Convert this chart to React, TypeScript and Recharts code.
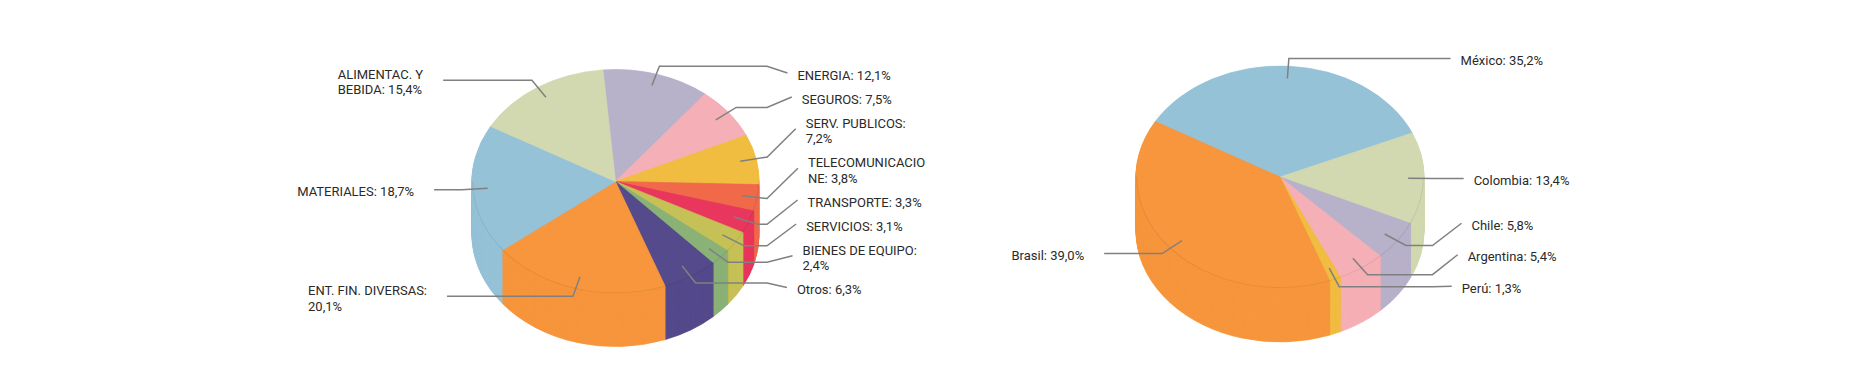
import { PieChart, Pie, Cell } from 'recharts'

// Left pie: sectors
const sectorNames = [
  'ENERGIA',
  'SEGUROS',
  'SERV. PUBLICOS',
  'TELECOMUNICACIONE',
  'TRANSPORTE',
  'SERVICIOS',
  'BIENES DE EQUIPO',
  'Otros',
  'ENT. FIN. DIVERSAS',
  'MATERIALES',
  'ALIMENTAC. Y BEBIDA',
]
const sectorValues = [12.1, 7.5, 7.2, 3.8, 3.3, 3.1, 2.4, 6.3, 20.1, 18.7, 15.4]
const sectorColors = [
  '#B8B1CA',
  '#F5AFB6',
  '#F1BD41',
  '#F06A4A',
  '#E8365D',
  '#C6C157',
  '#8BB276',
  '#544A8C',
  '#F7963D',
  '#96C2D7',
  '#D2D9B0',
]
const sectorLabels = [
  ['ENERGIA: 12,1%'],
  ['SEGUROS: 7,5%'],
  ['SERV. PUBLICOS:', '7,2%'],
  ['TELECOMUNICACIO', 'NE: 3,8%'],
  ['TRANSPORTE: 3,3%'],
  ['SERVICIOS: 3,1%'],
  ['BIENES DE EQUIPO:', '2,4%'],
  ['Otros: 6,3%'],
  ['ENT. FIN. DIVERSAS:', '20,1%'],
  ['MATERIALES: 18,7%'],
  ['ALIMENTAC. Y', 'BEBIDA: 15,4%'],
]

// Right pie: countries
const countryNames = ['México', 'Colombia', 'Chile', 'Argentina', 'Perú', 'Brasil']
const countryValues = [35.2, 13.4, 5.8, 5.4, 1.3, 39.0]
const countryColors = ['#96C2D7', '#D2D9B0', '#B8B1CA', '#F5AFB6', '#F1BD41', '#F7963D']
const countryLabels = [
  ['México: 35,2%'],
  ['Colombia: 13,4%'],
  ['Chile: 5,8%'],
  ['Argentina: 5,4%'],
  ['Perú: 1,3%'],
  ['Brasil: 39,0%'],
]

const FONT_SIZE = 13
const FONT_FAMILY = 'Roboto, "Noto Sans", sans-serif'
const LINE_COLOR = '#808080'
const TEXT_COLOR = '#2a2a2a'
const RAD = Math.PI / 180

type Spec = {
  cx: number
  cy: number
  rx: number
  ry: number
  depth: number
  startAngle: number
  lineH: number
  gap: number
  rightTop: number
  rightBottom: number
  leftTop: number
  leftBottom: number
}

const leftSpec: Spec = {
  cx: 615, cy: 181, rx: 143.5, ry: 112, depth: 53, startAngle: 95,
  lineH: 15.5, gap: 8.5, rightTop: 63, rightBottom: 301, leftTop: 30, leftBottom: 340,
}
const rightSpec: Spec = {
  cx: 1280, cy: 177, rx: 144, ry: 111, depth: 54, startAngle: 150,
  lineH: 15.5, gap: 16, rightTop: 30, rightBottom: 304, leftTop: 30, leftBottom: 340,
}

let ctx: CanvasRenderingContext2D | null = null
function textWidth(s: string) {
  if (!ctx && typeof document !== 'undefined') ctx = document.createElement('canvas').getContext('2d')
  if (!ctx) return s.length * 7
  ctx.font = `${FONT_SIZE}px ${FONT_FAMILY}`
  return ctx.measureText(s).width
}

type Item = { i: number; natural: number; size: number }

// push overlapping label boxes apart, keeping each group centred on its natural spot
function distribute(items: Item[], top: number, bottom: number) {
  const sorted = [...items].sort((a, b) => a.natural - b.natural)
  const place = (members: Item[]) => {
    let off = 0
    let sum = 0
    members.forEach((m) => {
      sum += m.natural - off - m.size / 2
      off += m.size
    })
    let y0 = sum / members.length
    y0 = Math.max(top, Math.min(bottom - off, y0))
    return { members, size: off, y0 }
  }
  const clusters = sorted.map((m) => place([m]))
  let merged = true
  while (merged) {
    merged = false
    for (let j = 1; j < clusters.length; j++) {
      const a = clusters[j - 1]
      const b = clusters[j]
      if (a.y0 + a.size > b.y0 + 0.01) {
        clusters.splice(j - 1, 2, place([...a.members, ...b.members]))
        merged = true
        break
      }
    }
  }
  const out: Record<number, number> = {}
  clusters.forEach((c) => {
    let off = 0
    c.members.forEach((m) => {
      out[m.i] = c.y0 + off + m.size / 2
      off += m.size
    })
  })
  return out
}

function labelLayout(values: number[], labels: string[][], s: Spec) {
  const total = values.reduce((a, b) => a + b, 0)
  let acc = 0
  const right: Item[] = []
  const left: Item[] = []
  values.forEach((v, i) => {
    const mid = s.startAngle - ((acc + v / 2) / total) * 360
    acc += v
    const natural = s.cy - 1.07 * s.ry * Math.sin(mid * RAD) + 2
    const item = { i, natural, size: labels[i].length * s.lineH + s.gap }
    if (Math.cos(mid * RAD) >= 0) right.push(item)
    else left.push(item)
  })
  return {
    ...distribute(right, s.rightTop, s.rightBottom),
    ...distribute(left, s.leftTop, s.leftBottom),
  }
}

function makeLabel(s: Spec, labels: string[][], layout: Record<number, number>) {
  return (props: any) => {
    const { cx, cy, midAngle, index } = props
    const cos = Math.cos(midAngle * RAD)
    const sin = Math.sin(midAngle * RAD)
    const sx = cx + 0.89 * s.rx * cos
    const sy = cy - 0.89 * s.ry * sin
    const ex = cx + 1.07 * s.rx * cos
    const ey = cy - 1.07 * s.ry * sin
    const ly = layout[index]
    const dy = ly - cy
    const D = 1.345 * s.rx * Math.sqrt(Math.max(0, 1 - (dy / (2.9 * s.ry)) ** 2))
    const lines = labels[index]
    const isRight = cos >= 0
    let hx: number
    let endX: number
    let textX: number
    if (isRight) {
      hx = Math.max(ex, cx + s.rx + 8.5)
      textX = cx + D
      endX = textX - 10
    } else {
      hx = Math.min(ex, cx - s.rx - 8.5)
      const blockW = Math.max(...lines.map(textWidth))
      textX = cx - D - 8 - blockW
      endX = cx - D + 12
    }
    const pts = `${sx},${sy} ${ex},${ey} ${hx},${ey} ${endX},${ly - 2}`
    const firstCenter = ly - ((lines.length - 1) * s.lineH) / 2
    return (
      <g>
        <polyline points={pts} fill="none" stroke={LINE_COLOR} strokeWidth={1.5} />
        {lines.map((t, j) => (
          <text
            key={j}
            x={textX}
            y={firstCenter + j * s.lineH + 4.5}
            fill={TEXT_COLOR}
            fontSize={FONT_SIZE}
            fontFamily={FONT_FAMILY}
            textAnchor="start"
          >
            {t}
          </text>
        ))}
      </g>
    )
  }
}

// the pie is drawn as a stack of flat pies and squashed vertically with css
function SolidPie({ names, values, colors, s }: { names: string[]; values: number[]; colors: string[]; s: Spec }) {
  const data = names.map((name, i) => ({ name, value: values[i] }))
  const k = s.ry / s.rx
  const depthU = Math.round(s.depth / k)
  const W = Math.ceil(2 * s.rx + 4)
  const H = Math.ceil(2 * s.rx + depthU + 4)
  const pcx = W / 2
  const pcy = s.rx + 2
  const layers = Array.from({ length: depthU + 1 }, (_, j) => depthU - j)
  return (
    <div
      style={{
        position: 'absolute',
        left: s.cx - pcx,
        top: s.cy - pcy,
        width: W,
        height: H,
        transform: `scaleY(${k})`,
        transformOrigin: `${pcx}px ${pcy}px`,
      }}
    >
      <PieChart width={W} height={H} margin={{ top: 0, right: 0, bottom: 0, left: 0 }}>
        {layers.map((d) => (
          <Pie
            key={`layer-${d}`}
            data={data}
            dataKey="value"
            cx={pcx}
            cy={pcy + d}
            outerRadius={s.rx}
            startAngle={s.startAngle}
            endAngle={s.startAngle - 360}
            isAnimationActive={false}
            labelLine={false}
          >
            {data.map((entry, i) => (
              <Cell key={`cell-${i}`} fill={colors[i]} stroke={colors[i]} strokeWidth={0.8} />
            ))}
          </Pie>
        ))}
        <Pie
          data={[{ name: 'rim', value: 1 }]}
          dataKey="value"
          cx={pcx}
          cy={pcy}
          innerRadius={s.rx - 1.2}
          outerRadius={s.rx}
          startAngle={0}
          endAngle={-180}
          fill="rgba(0,0,0,0.07)"
          stroke="none"
          isAnimationActive={false}
        />
      </PieChart>
    </div>
  )
}

export default function App() {
  const leftData = sectorNames.map((name, i) => ({ name, value: sectorValues[i] }))
  const rightData = countryNames.map((name, i) => ({ name, value: countryValues[i] }))
  const leftLayout = labelLayout(sectorValues, sectorLabels, leftSpec)
  const rightLayout = labelLayout(countryValues, countryLabels, rightSpec)

  return (
    <div
      style={{
        position: 'absolute',
        left: 0,
        top: 0,
        width: 1861,
        height: 371,
        overflow: 'hidden',
        background: '#fff',
      }}
    >
      <SolidPie names={sectorNames} values={sectorValues} colors={sectorColors} s={leftSpec} />
      <SolidPie names={countryNames} values={countryValues} colors={countryColors} s={rightSpec} />
      <div style={{ position: 'absolute', left: 0, top: 0 }}>
        <PieChart width={1861} height={371} margin={{ top: 0, right: 0, bottom: 0, left: 0 }}>
          <Pie
            data={leftData}
            dataKey="value"
            cx={leftSpec.cx}
            cy={leftSpec.cy}
            outerRadius={leftSpec.rx}
            startAngle={leftSpec.startAngle}
            endAngle={leftSpec.startAngle - 360}
            fill="none"
            stroke="none"
            isAnimationActive={false}
            labelLine={false}
            label={makeLabel(leftSpec, sectorLabels, leftLayout)}
          />
          <Pie
            data={rightData}
            dataKey="value"
            cx={rightSpec.cx}
            cy={rightSpec.cy}
            outerRadius={rightSpec.rx}
            startAngle={rightSpec.startAngle}
            endAngle={rightSpec.startAngle - 360}
            fill="none"
            stroke="none"
            isAnimationActive={false}
            labelLine={false}
            label={makeLabel(rightSpec, countryLabels, rightLayout)}
          />
        </PieChart>
      </div>
    </div>
  )
}
